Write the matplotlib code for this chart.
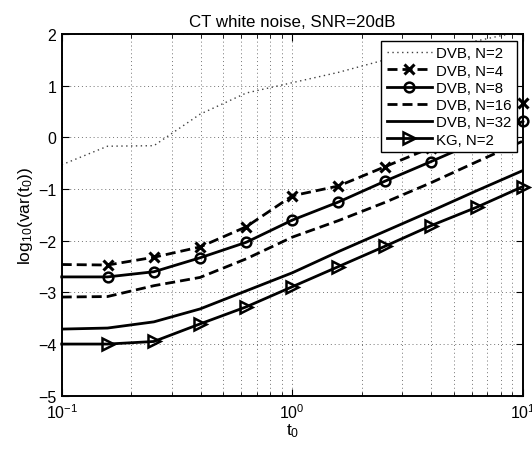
import matplotlib
matplotlib.use("Agg")
import matplotlib.pyplot as plt
from matplotlib.ticker import LogLocator, NullFormatter, FixedLocator

plt.rcParams['font.family'] = ['Liberation Sans', 'DejaVu Sans']
plt.rcParams['mathtext.fontset'] = 'custom'
plt.rcParams['mathtext.rm'] = 'Liberation Sans'

# data
t0 = [0.1, 0.158, 0.251, 0.398, 0.631, 1.0, 1.585, 2.512, 3.981, 6.310, 10.0]
dvb_n2 = [-0.53, -0.17, -0.16, 0.45, 0.86, 1.06, 1.26, 1.50, 1.68, 1.87, 2.06]
dvb_n4 = [-2.46, -2.47, -2.32, -2.12, -1.73, -1.13, -0.94, -0.57, -0.20, 0.22, 0.66]
dvb_n8 = [-2.70, -2.70, -2.60, -2.33, -2.03, -1.60, -1.25, -0.85, -0.47, -0.08, 0.31]
dvb_n16 = [-3.09, -3.08, -2.87, -2.71, -2.35, -1.93, -1.61, -1.26, -0.88, -0.47, -0.07]
dvb_n32 = [-3.71, -3.69, -3.57, -3.32, -2.97, -2.62, -2.21, -1.82, -1.43, -1.03, -0.64]
kg_n2 = [-4.00, -4.00, -3.95, -3.61, -3.28, -2.89, -2.50, -2.11, -1.71, -1.35, -0.95]
labels = ['DVB, N=2', 'DVB, N=4', 'DVB, N=8', 'DVB, N=16', 'DVB, N=32', 'KG, N=2']
yticks = [-5, -4, -3, -2, -1, 0, 1, 2]

fig = plt.figure(figsize=(5.32, 4.52), dpi=100)
ax = fig.add_axes([0.116, 0.1223, 0.867, 0.800])

dash = (0, (3.6, 1.8))
ms_every = slice(1, None)
ax.plot(t0, dvb_n2, color='0.25', lw=1.0, linestyle=(0, (1, 2.5)), label=labels[0])
ax.plot(t0, dvb_n4, color='k', lw=2, linestyle=dash, marker='x', ms=7, mew=2.2,
        markevery=ms_every, clip_on=False, label=labels[1])
ax.plot(t0, dvb_n8, color='k', lw=2, marker='o', ms=7, mew=1.8, mfc='none',
        markevery=ms_every, clip_on=False, label=labels[2])
ax.plot(t0, dvb_n16, color='k', lw=2, linestyle=dash, label=labels[3])
ax.plot(t0, dvb_n32, color='k', lw=2, label=labels[4])
ax.plot(t0, kg_n2, color='k', lw=2, marker='>', ms=9, mew=1.8, mfc='none',
        markevery=ms_every, clip_on=False, label=labels[5])

ax.set_xscale('log')
ax.set_xlim(0.1, 10)
ax.set_ylim(-5, 2)
ax.set_yticks(yticks)
ax.set_yticklabels(['\u2212%d' % -v if v < 0 else '%d' % v for v in yticks])
ax.xaxis.set_major_locator(FixedLocator([0.1, 1, 10]))
ax.set_xticklabels([r'$\mathregular{10^{-1}}$', r'$\mathregular{10^{0}}$', r'$\mathregular{10^{1}}$'])
ax.xaxis.set_minor_locator(LogLocator(base=10, subs=range(2, 10)))
ax.xaxis.set_minor_formatter(NullFormatter())

ax.tick_params(which='both', direction='in', top=True, right=True, labelsize=11.5)
ax.tick_params(which='major', length=5, width=0.8)
ax.tick_params(which='minor', length=3, width=0.6)
ax.tick_params(axis='x', which='major', pad=5)
ax.tick_params(axis='y', which='major', pad=4)

gstyle = dict(color='0.45', linestyle=(0, (1, 3)), linewidth=0.7)
ax.grid(True, which='major', **gstyle)
ax.grid(True, which='minor', axis='x', **gstyle)
for s in ax.spines.values():
    s.set_linewidth(1.4)

ax.set_title('CT white noise, SNR=20dB', fontsize=12.2, pad=6)
ax.set_xlabel(r'$\mathregular{t_0}$', fontsize=12.5, labelpad=0)
ax.set_ylabel(r'$\mathregular{log_{10}(var(t_0))}$', fontsize=12.5, labelpad=2)

leg = ax.legend(loc='upper right', bbox_to_anchor=(0.987, 0.981), fontsize=10.8,
                frameon=True, fancybox=False, edgecolor='k', framealpha=1,
                handlelength=3.0, handletextpad=0.3, borderpad=0.35,
                labelspacing=0.22, borderaxespad=0)
leg.get_frame().set_linewidth(1.0)
leg.set_zorder(10)

fig.savefig('out.png', dpi=100)
